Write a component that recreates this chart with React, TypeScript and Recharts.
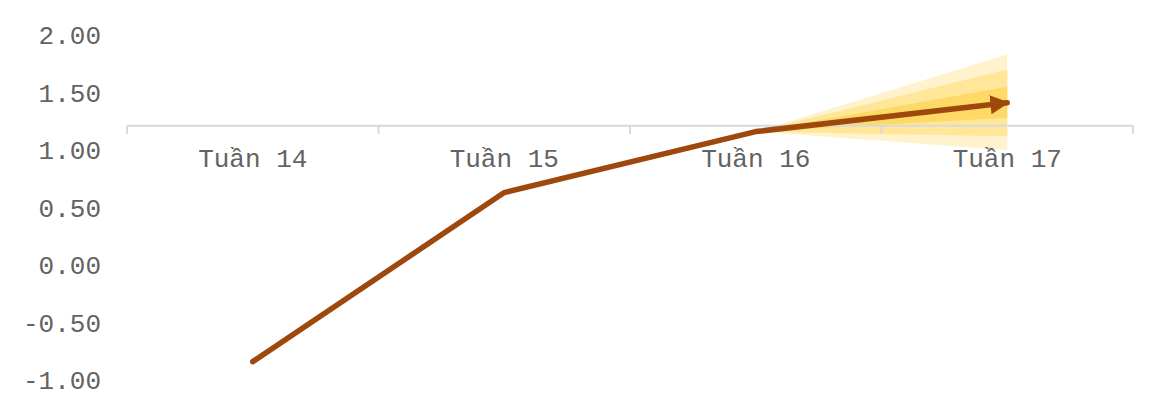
import { ComposedChart, Line, Area, XAxis, YAxis, ReferenceLine, ReferenceDot, Customized } from "recharts";

const weeks = ["Tuần 14", "Tuần 15", "Tuần 16", "Tuần 17"];
const values = [-0.84, 0.63, 1.16, 1.41];

// fan bands around the forecast (null where there is no band)
const outerLow = [null, null, 1.16, 1.0];
const outerHigh = [null, null, 1.16, 1.83];
const midLow = [null, null, 1.16, 1.12];
const midHigh = [null, null, 1.16, 1.7];
const innerLow = [null, null, 1.16, 1.28];
const innerHigh = [null, null, 1.16, 1.55];

const yTicks = [-1, -0.5, 0, 0.5, 1, 1.5, 2];
const axisCross = 1.21;
const tickDepth = 1.14;

const band = (lo: (number | null)[], hi: (number | null)[], i: number) =>
  lo[i] != null && hi[i] != null ? [lo[i], hi[i]] : null;

const data = weeks.map((week, i) => ({
  week,
  value: values[i],
  outer: band(outerLow, outerHigh, i),
  mid: band(midLow, midHigh, i),
  inner: band(innerLow, innerHigh, i),
}));

const FONT = '"Liberation Mono", "Courier New", monospace';
const TEXT = "#636363";
const GRID = "#D9D9D9";

const ArrowDefs = () => (
  <defs>
    <marker
      id="arrowHead"
      markerUnits="userSpaceOnUse"
      viewBox="0 0 18 18"
      markerWidth={19}
      markerHeight={19}
      refX={16}
      refY={9}
      orient="auto"
    >
      <path d="M0,0 L18,9 L0,18 Z" fill="#9E480E" />
    </marker>
  </defs>
);

// y tick text; the first tick also carries the chart's outer border
const YTick = (props: any) => {
  const { x, y, payload, index } = props;
  return (
    <g>
      {index === 0 && (
        <path d="M7,403 L7,7 L1160,7 L1160,403" fill="none" stroke={GRID} strokeWidth={2} />
      )}
      <text x={x} y={y} dy="0.355em" textAnchor="end" fill={TEXT} fontSize={26} fontFamily={FONT}>
        {Number(payload.value).toFixed(2)}
      </text>
    </g>
  );
};

const App = () => {
  return (
    <div style={{ position: "relative", width: 1163, height: 403, overflow: "hidden", background: "#fff", marginLeft: -8, marginTop: -8 }}>
      <ComposedChart width={1163} height={403} data={data} margin={{ top: 35, right: 30, bottom: 23, left: 0 }}>
        <Customized component={ArrowDefs} />
        <XAxis dataKey="week" scale="band" hide />
        <YAxis
          width={127}
          domain={[-1, 2]}
          ticks={yTicks}
          interval={0}
          axisLine={false}
          tickLine={false}
          tickSize={0}
          tickMargin={26}
          tick={YTick}
        />
        <Area dataKey="outer" stroke="none" fill="#FFF2CC" fillOpacity={1} dot={false} activeDot={false} isAnimationActive={false} />
        <Area dataKey="mid" stroke="none" fill="#FFE699" fillOpacity={1} dot={false} activeDot={false} isAnimationActive={false} />
        <Area dataKey="inner" stroke="none" fill="#FFD966" fillOpacity={1} dot={false} activeDot={false} isAnimationActive={false} />
        <ReferenceLine y={axisCross} stroke={GRID} strokeWidth={2} />
        {weeks.map((w) => (
          <ReferenceLine
            key={`tick-${w}`}
            position="start"
            segment={[
              { x: w, y: axisCross },
              { x: w, y: tickDepth },
            ]}
            stroke={GRID}
            strokeWidth={2}
          />
        ))}
        <ReferenceLine
          position="end"
          segment={[
            { x: weeks[weeks.length - 1], y: axisCross },
            { x: weeks[weeks.length - 1], y: tickDepth },
          ]}
          stroke={GRID}
          strokeWidth={2}
        />
        {weeks.map((w) => (
          <ReferenceDot
            key={`lbl-${w}`}
            x={w}
            y={axisCross}
            r={0}
            fill="none"
            stroke="none"
            label={{ value: w, position: "bottom", offset: 23, fill: TEXT, fontSize: 26, fontFamily: FONT }}
          />
        ))}
        <Line
          dataKey="value"
          stroke="#9E480E"
          strokeWidth={5.5}
          strokeLinecap="round"
          strokeLinejoin="round"
          markerEnd="url(#arrowHead)"
          dot={false}
          activeDot={false}
          isAnimationActive={false}
        />
      </ComposedChart>
    </div>
  );
};

export default App;
